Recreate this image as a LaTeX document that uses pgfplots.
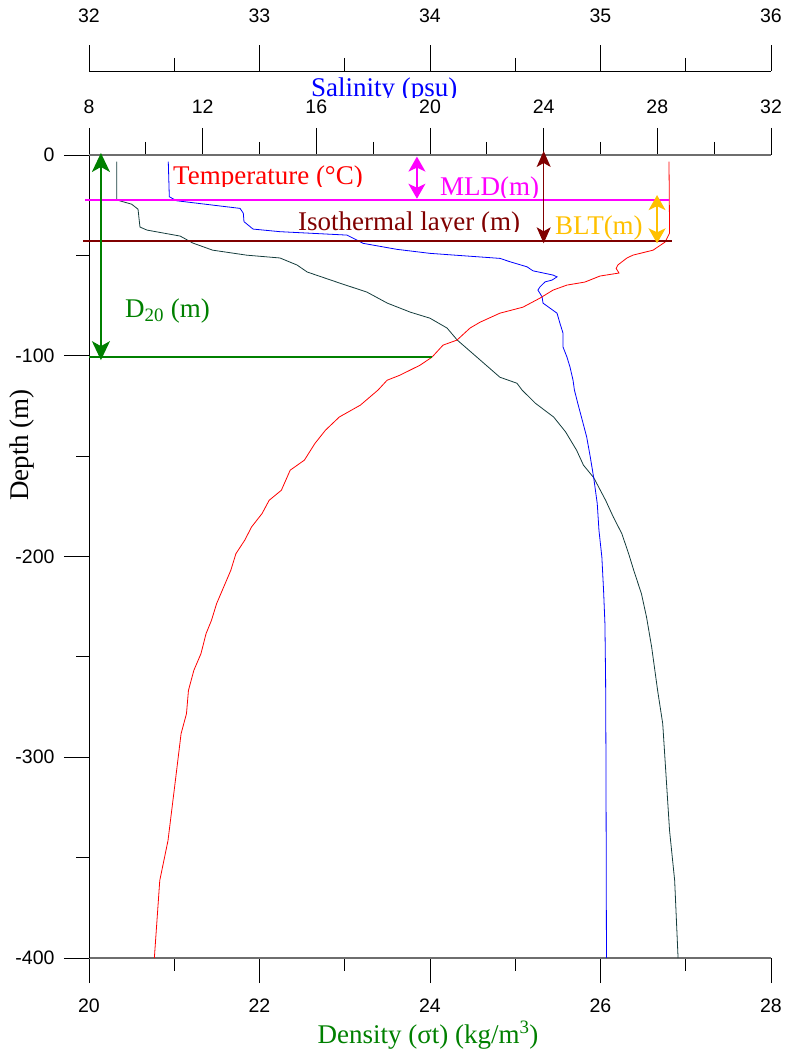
\documentclass[border=0pt]{standalone}
\usepackage{fontspec}
\setmainfont{Liberation Serif}
\newfontfamily\tickfont{Liberation Sans}
\usepackage{pgfplots}
\pgfplotsset{compat=1.18}
\usetikzlibrary{arrows.meta}

\definecolor{dens}{RGB}{20,60,60}
\definecolor{brownred}{RGB}{128,0,0}
\definecolor{gold}{RGB}{255,192,0}
\definecolor{dgreen}{RGB}{0,128,0}
\definecolor{mag}{RGB}{255,0,255}
\definecolor{axgray}{RGB}{110,110,110}
\newcommand\lbl{\fontsize{27}{30}\selectfont}

\pgfplotsset{
 base/.style={scale only axis, width=682pt, height=803pt, at={(89pt,97pt)}, anchor=south west,
   ymin=-400, ymax=0, clip=false,
   tick align=outside, major tick length=25pt, minor tick length=12.5pt,
   ticklabel style={font=\tickfont\fontsize{19.5}{20}\selectfont},
   /pgf/number format/assume math mode=true,
   every tick/.style={black, line width=0.8pt},
 },
}

\begin{document}
\begin{tikzpicture}[x=1pt,y=1pt]
\path[use as bounding box] (0,0) rectangle (786,1055);

% Density + depth axis
\begin{axis}[base, xmin=20, xmax=28,
  axis x line*=bottom, axis y line*=left,
  xtick={20,22,24,26,28}, minor x tick num=1,
  ytick={-400,-300,-200,-100,0}, yticklabels={-400,-300,-200,-100,0}, minor y tick num=1,
  x axis line style={axgray, line width=1.5pt, -},
  y axis line style={black, line width=0.8pt, -},
  xticklabel shift=12pt, yticklabel shift=6pt]
\addplot[dens, line width=0.8pt] coordinates {
(20.325,-3.3) (20.325,-22.4) (20.5,-24.5) (20.575,-27) (20.598,-35.9) (20.68,-37.4) (21.07,-40.4)
(21.22,-43.9) (21.45,-47.4) (21.85,-49.9) (22.24,-51.3) (22.44,-54.8) (22.56,-58.3) (22.94,-63.8)
(23.26,-68.3) (23.50,-73.8) (23.77,-78.3) (24.0,-81.3) (24.2,-86.2) (24.32,-92.2) (24.55,-100.7)
(24.82,-110.7) (25.02,-113.7) (25.08,-117.1) (25.24,-123.8) (25.45,-130.5) (25.59,-137.9)
(25.72,-147.1) (25.80,-154.5) (25.92,-160.7) (26.06,-172.0) (26.15,-180.3) (26.25,-188.6)
(26.33,-198.6) (26.39,-206.9) (26.48,-218.5) (26.54,-230.2) (26.60,-245.1) (26.67,-266.7)
(26.73,-283.3) (26.76,-303.2) (26.81,-336.5) (26.87,-361.4) (26.91,-400)};
\end{axis}

% Salinity profile
\begin{axis}[base, xmin=32, xmax=36, hide axis]
\addplot[blue, line width=0.8pt] coordinates {
(32.465,-3.3) (32.471,-20.8) (32.514,-22.8) (32.886,-26.6) (32.905,-29.0) (32.909,-33.2)
(32.962,-36.9) (33.12,-38.2) (33.513,-39.9) (33.572,-42.4) (33.607,-44.0) (33.806,-47.0)
(34.0,-49.0) (34.41,-51.5) (34.47,-53.2) (34.569,-55.7) (34.604,-57.7) (34.721,-59.8)
(34.745,-60.7) (34.716,-62.3) (34.675,-63.2) (34.645,-65.7) (34.633,-67.3) (34.657,-70.6)
(34.663,-73.8) (34.745,-78.8) (34.762,-83.8) (34.78,-88.7) (34.78,-95.6) (34.803,-100.6)
(34.821,-105.6) (34.839,-112.2) (34.847,-117.1) (34.867,-123.8) (34.888,-130.5) (34.919,-140.5)
(34.940,-150.4) (34.960,-160.7) (34.981,-173.7) (34.991,-187.0) (35.008,-200.3) (35.018,-216.9)
(35.026,-233.5) (35.030,-261.7) (35.032,-300) (35.035,-400)};
\end{axis}

% Temperature axis (top) + profile + annotations
\begin{axis}[base, xmin=8, xmax=32,
  axis x line*=top, axis y line=none, ytick=\empty,
  xtick={8,12,16,20,24,28,32}, minor x tick num=1,
  major tick length=27pt, minor tick length=13pt,
  x axis line style={axgray, line width=1.5pt, -},
  xticklabel shift=11pt]
\addplot[red, line width=0.8pt] coordinates {
(28.41,-3.3) (28.42,-20) (28.43,-38.9) (28.27,-43.4) (27.85,-47.4) (27.14,-49.9) (26.93,-51.3)
(26.61,-54.8) (26.55,-56.5) (26.65,-58.8) (25.98,-60.3) (25.45,-63.3) (24.82,-64.8) (24.33,-67.3)
(23.87,-71.3) (23.27,-75.8) (22.46,-78.8) (21.76,-83.3) (21.41,-86.2) (20.95,-92.2) (20.46,-94.7)
(20.07,-100.7) (19.65,-104.7) (18.94,-109.7) (18.49,-112.2) (18.17,-117.1) (17.55,-124.6)
(16.81,-130.5) (16.32,-137.1) (15.95,-143.7) (15.58,-152.0) (15.08,-157.0) (14.77,-167.0)
(14.34,-172.0) (14.09,-178.6) (13.72,-185.3) (13.48,-191.9) (13.17,-198.6) (12.99,-206.9)
(12.74,-215.2) (12.49,-223.5) (12.31,-231.8) (12.12,-238.4) (11.94,-248.4) (11.69,-256.7)
(11.50,-266.7) (11.43,-278.3) (11.24,-288.3) (11.04,-311.6) (10.78,-341.5) (10.49,-361.4)
(10.30,-400)};
% layer lines
\draw[mag, line width=2pt] (axis cs:7.86,-22.4) -- (axis cs:28.41,-22.4);
\draw[brownred, line width=1.4pt] (axis cs:7.79,-42.9) -- (axis cs:28.51,-42.9);
\draw[dgreen, line width=2pt] (axis cs:8.0,-100.7) -- (axis cs:20.07,-100.7);
% double arrows
\draw[dgreen, line width=1.5pt, {Stealth[length=19pt,width=18pt,inset=5pt]}-{Stealth[length=19pt,width=18pt,inset=5pt]}]
  (axis cs:8.42,1) -- (axis cs:8.42,-102.2);
\draw[mag, line width=1.5pt, {Stealth[length=15pt,width=17pt,inset=4pt]}-{Stealth[length=15pt,width=17pt,inset=4pt]}]
  (axis cs:19.54,-0.8) -- (axis cs:19.54,-21.8);
\draw[brownred, line width=1.2pt, {Stealth[length=16pt,width=14pt,inset=4pt]}-{Stealth[length=16pt,width=14pt,inset=4pt]}]
  (axis cs:24.0,2) -- (axis cs:24.0,-44);
\draw[gold, line width=1.5pt, {Stealth[length=15pt,width=17pt,inset=4pt]}-{Stealth[length=15pt,width=17pt,inset=4pt]}]
  (axis cs:27.99,-20) -- (axis cs:27.99,-44);
\end{axis}

% Salinity scale (upper top axis)
\begin{axis}[scale only axis, width=682pt, height=1pt, at={(89pt,983pt)}, anchor=south west,
  xmin=32, xmax=36, ymin=0, ymax=1,
  axis x line*=top, axis y line=none, ytick=\empty,
  xtick={32,33,34,35,36}, minor x tick num=1,
  tick align=outside, major tick length=26pt, minor tick length=13pt,
  every tick/.style={black, line width=0.8pt},
  ticklabel style={font=\tickfont\fontsize{19.5}{20}\selectfont},
  /pgf/number format/assume math mode=true,
  x axis line style={black, line width=0.8pt, -},
  xticklabel shift=19pt]
\end{axis}

% axis titles
\node[rotate=90, font=\lbl] at (22,610) {Depth (m)};
\node[dgreen, anchor=base, inner sep=0pt, font=\lbl] at (428,12) {Density (σt) (kg/m\textsuperscript{3})};

% labels (clipped at baseline as in the original)
\begin{scope}
\clip (300,957) rectangle (480,995);
\node[blue, anchor=base west, inner sep=0pt, font=\lbl] at (311,958) {Salinity (psu)};
\end{scope}
\begin{scope}
\clip (165,868) rectangle (380,900);
\node[red, anchor=base west, inner sep=0pt, font=\lbl] at (173,870) {Temperature (°C)};
\end{scope}
\begin{scope}
\clip (430,857.5) rectangle (560,895);
\node[mag, anchor=base west, inner sep=0pt, font=\lbl] at (440,859) {MLD(m)};
\end{scope}
\begin{scope}
\clip (290,823) rectangle (530,860);
\node[brownred, anchor=base west, inner sep=0pt, font=\lbl] at (298,824) {Isothermal layer (m)};
\end{scope}
\node[gold, anchor=base west, inner sep=0pt, font=\lbl] at (555,820.5) {BLT(m)};
\node[dgreen, anchor=base west, inner sep=0pt, font=\lbl] at (125,737) {D\textsubscript{20} (m)};
\end{tikzpicture}
\end{document}
